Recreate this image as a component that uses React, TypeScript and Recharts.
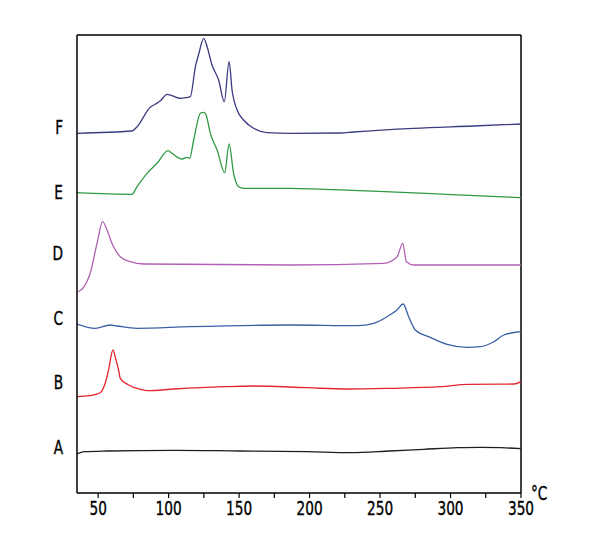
import { LineChart, Line, XAxis, YAxis, ReferenceLine } from 'recharts';

// DSC traces, signal in arbitrary (stacked) units
const aTemp = [35, 40, 56, 104, 151, 198, 229, 257, 281, 305, 321, 336, 350];
const aSignal = [39, 41.3, 42, 42.7, 42, 41.3, 40.3, 42, 43.7, 45.3, 45.7, 45.3, 44.3];

const bTemp = [35, 44, 51.5, 55, 57.4, 60.5, 62.5, 64.5, 65.7, 71.6, 80, 84.7, 104, 139, 160, 198, 227, 257, 293, 312, 345, 350];
const bSignal = [96.3, 97.3, 100.3, 109.7, 123, 143, 134, 123, 114.7, 108, 103.7, 102.3, 104, 106.3, 107, 105.3, 104, 104.7, 106.3, 108.7, 109, 111.3];

const cTemp = [35, 48, 58.6, 63.4, 77.6, 115, 186, 234, 245.5, 255, 262, 266.4, 270.3, 275, 285.7, 297.6, 311.8, 321.2, 330.7, 337.8, 350];
const cSignal = [169, 164.7, 168, 167, 164.7, 166.3, 168, 167.3, 169.7, 176.3, 183, 189, 176.3, 163, 155.7, 148.7, 145.7, 146.3, 151.3, 158, 161.3];

const dTemp = [36, 39.7, 44.4, 49.2, 53.2, 56.3, 59.8, 65.7, 72.8, 82.3, 186, 252.6, 262.1, 266.1, 268.7, 273.9, 350];
const dSignal = [201.3, 205.7, 219.7, 249.7, 271.3, 263, 249.7, 236.3, 231.3, 229, 228, 229.7, 236.3, 249.7, 231.3, 228, 228];

const eTemp = [35, 74, 77.6, 84.7, 91.8, 99.6, 102.4, 109.5, 113.1, 114.9, 117.8, 122.5, 124.9, 126.6, 129.6, 134.4, 139.8, 142.9, 146.1, 149.7, 153.2, 186, 210, 350];
const eSignal = [300.3, 298.7, 306.3, 319.7, 329.7, 342.3, 339.7, 334, 335.7, 334.7, 353, 379.7, 380.7, 378, 359.7, 343, 320.3, 349, 319.7, 306.3, 304.7, 304.7, 303.7, 295.3];

const fTemp = [35, 74, 77.6, 87, 90.4, 94, 98.9, 102.4, 108.5, 112, 115.4, 119, 121.3, 124.9, 127.3, 130.8, 135.5, 139.5, 142.9, 145, 148.6, 153.2, 160.3, 169.8, 186, 222, 231, 274, 316, 350];
const fSignal = [359.7, 362, 366.3, 385.7, 388.7, 392, 398.7, 397.3, 394.7, 395.3, 396.3, 426.3, 438.7, 454.7, 446.3, 428, 413, 391.3, 431.3, 403, 383, 373, 364.7, 360.3, 359.7, 360, 361, 364.7, 367, 369];

const sampleNames = ['A', 'B', 'C', 'D', 'E', 'F'];
const sampleLabelPos = [46.3, 111.3, 174.7, 239.7, 301.3, 366.3];
const xTicks = [50, 75, 100, 125, 150, 175, 200, 225, 250, 275, 300, 325, 350];

const FONT = "'Liberation Sans Narrow', 'DejaVu Sans Condensed', 'Liberation Sans', sans-serif";

const toPoints = (temps: number[], vals: number[]) => temps.map((t, i) => ({ t, v: vals[i] }));

const series = [
  { name: 'A', data: toPoints(aTemp, aSignal), color: '#1e1e1e' },
  { name: 'B', data: toPoints(bTemp, bSignal), color: '#e3262e' },
  { name: 'C', data: toPoints(cTemp, cSignal), color: '#3b5fa5' },
  { name: 'D', data: toPoints(dTemp, dSignal), color: '#b160b4' },
  { name: 'E', data: toPoints(eTemp, eSignal), color: '#2f9a45' },
  { name: 'F', data: toPoints(fTemp, fSignal), color: '#3a3c80' },
];

// condensed-looking text: squeeze horizontally
function NarrowText({ x, y, anchor, children }: any) {
  return (
    <text
      transform={`translate(${x},${y}) scale(0.8,1)`}
      textAnchor={anchor}
      fontSize={19}
      fontFamily={FONT}
      fill="#000"
      stroke="#000"
      strokeWidth={0.35}
    >
      {children}
    </text>
  );
}

function XTick(props: any) {
  const { x, y, payload } = props;
  const major = payload.value % 50 === 0;
  return (
    <g>
      <line x1={x} y1={y - 8} x2={x} y2={y - 3} stroke="#000" strokeWidth={1.2} />
      {major && (
        <NarrowText x={x} y={y + 14} anchor="middle">
          {payload.value}
        </NarrowText>
      )}
    </g>
  );
}

function YTick(props: any) {
  const { x, y, payload } = props;
  const name = sampleNames[sampleLabelPos.indexOf(payload.value)] ?? '';
  return (
    <NarrowText x={x} y={y + 7} anchor="end">
      {name}
    </NarrowText>
  );
}

export default function App() {
  return (
    <LineChart width={580} height={540} margin={{ top: 27, right: 67, bottom: 25, left: 29 }}>
      <XAxis
        type="number"
        dataKey="t"
        domain={[35, 350]}
        ticks={xTicks}
        allowDataOverflow
        stroke="#000"
        strokeWidth={1.5}
        tickLine={false}
        tick={<XTick />}
        height={30}
        label={(p: any) => {
          const vb = p.viewBox;
          return (
            <NarrowText x={vb.x + vb.width + 10} y={vb.y + 7} anchor="start">
              °C
            </NarrowText>
          );
        }}
      />
      <YAxis
        type="number"
        domain={[0, 458]}
        ticks={sampleLabelPos}
        stroke="#000"
        strokeWidth={1.5}
        tickLine={false}
        tickMargin={8}
        width={40}
        tick={<YTick />}
      />
      <ReferenceLine y={458} stroke="#000" strokeWidth={1.5} />
      <ReferenceLine x={350} stroke="#000" strokeWidth={1.5} />
      {series.map((s) => (
        <Line
          key={s.name}
          data={s.data}
          dataKey="v"
          type="monotone"
          stroke={s.color}
          strokeWidth={1.3}
          dot={false}
          isAnimationActive={false}
        />
      ))}
    </LineChart>
  );
}
